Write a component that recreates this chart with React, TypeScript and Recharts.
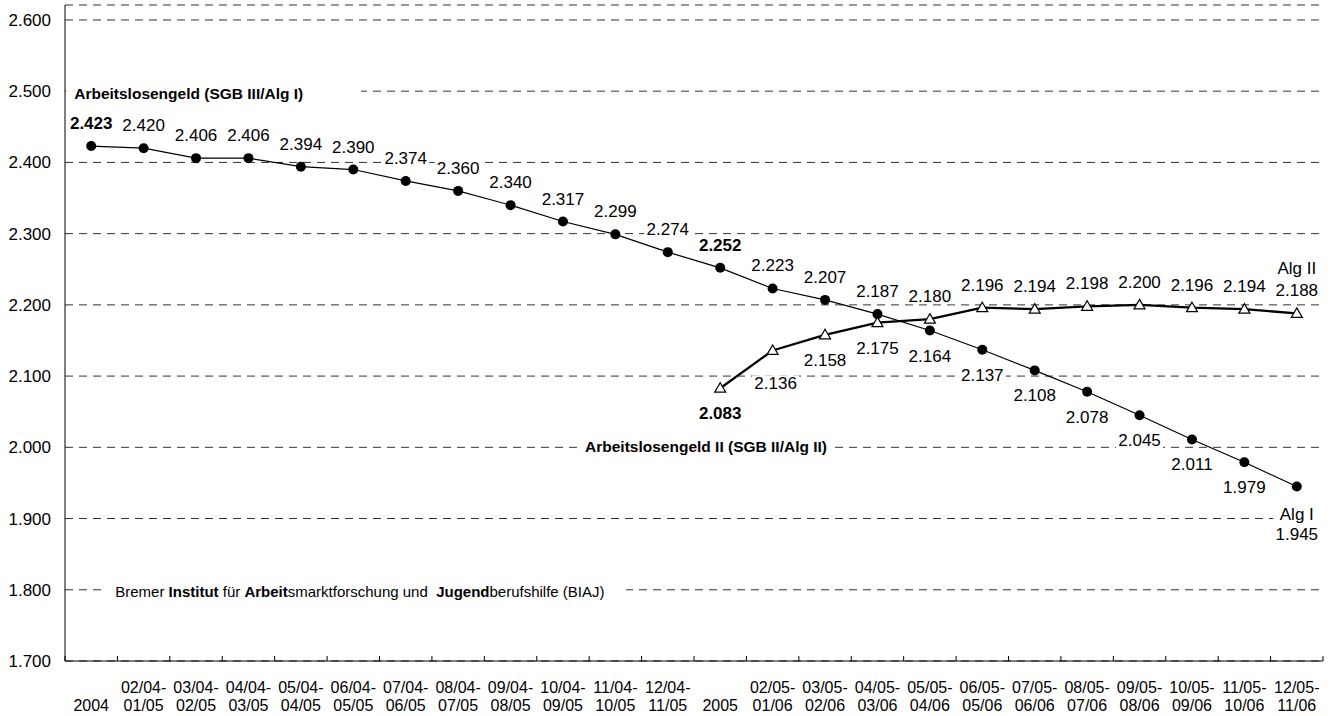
import React from 'react';
import { LineChart, Line, XAxis, YAxis, CartesianGrid, LabelList, ReferenceDot } from 'recharts';

// Zeiträume: Jahresdurchschnitt 2004/2005 und gleitende 12-Monats-Durchschnitte
const periods = [
  '2004', '02/04-01/05', '03/04-02/05', '04/04-03/05', '05/04-04/05', '06/04-05/05',
  '07/04-06/05', '08/04-07/05', '09/04-08/05', '10/04-09/05', '11/04-10/05', '12/04-11/05',
  '2005', '02/05-01/06', '03/05-02/06', '04/05-03/06', '05/05-04/06', '06/05-05/06',
  '07/05-06/06', '08/05-07/06', '09/05-08/06', '10/05-09/06', '11/05-10/06', '12/05-11/06',
];

// Arbeitslosengeld (SGB III/Alg I), Tausend
const algI = [
  2423, 2420, 2406, 2406, 2394, 2390, 2374, 2360, 2340, 2317, 2299, 2274,
  2252, 2223, 2207, 2187, 2164, 2137, 2108, 2078, 2045, 2011, 1979, 1945,
];

// Arbeitslosengeld II (SGB II/Alg II), ab 2005
const algII = [
  null, null, null, null, null, null, null, null, null, null, null, null,
  2083, 2136, 2158, 2175, 2180, 2196, 2194, 2198, 2200, 2196, 2194, 2188,
];

const yTicks = [1700, 1800, 1900, 2000, 2100, 2200, 2300, 2400, 2500, 2600];

const WIDTH = 1334;
const HEIGHT = 716;
const MARGIN = { top: 5, right: 11, bottom: 5, left: 0 };
const Y_AXIS_W = 65;
const X_AXIS_H = 50;
const PLOT_W = WIDTH - MARGIN.left - MARGIN.right - Y_AXIS_W;
const HALF_BAND = PLOT_W / periods.length / 2;

const FONT = '"Liberation Sans", Arial, Helvetica, sans-serif';

const fmt = (v: number) => `${Math.floor(v / 1000)}.${String(v % 1000).padStart(3, '0')}`;
const isYear = (p: string) => !p.includes('/');

const data = periods.map((period, i) => ({ period, idx: i, algI: algI[i], algII: algII[i] }));

const XTick = (props: any) => {
  const { x, y, payload } = props;
  const p: string = payload.value;
  const i = periods.indexOf(p);
  const top = isYear(p) ? '' : p.slice(0, 6);
  const bottom = isYear(p) ? p : p.slice(6);
  return (
    <g>
      <line x1={x - HALF_BAND} x2={x - HALF_BAND} y1={y} y2={y - 5} stroke="#000" />
      {i === periods.length - 1 && (
        <line x1={x + HALF_BAND} x2={x + HALF_BAND} y1={y} y2={y - 5} stroke="#000" />
      )}
      <text x={x} y={y + 32} textAnchor="middle" fontSize={16} fontFamily={FONT} fill="#000">{top}</text>
      <text x={x} y={y + 50} textAnchor="middle" fontSize={16} fontFamily={FONT} fill="#000">{bottom}</text>
    </g>
  );
};

const YTick = (props: any) => {
  const { x, y, payload } = props;
  return (
    <text x={x - 14} y={y + 6} textAnchor="end" fontSize={17} fontFamily={FONT} fill="#000">
      {fmt(payload.value)}
    </text>
  );
};

const ValueText = ({ cx, cy, text, bold }: { cx: number; cy: number; text: string; bold?: boolean }) => {
  const w = text.length * 8.6 + 4;
  return (
    <g>
      <rect x={cx - w / 2} y={cy - 8} width={w} height={16} fill="#fff" />
      <text x={cx} y={cy + 6} textAnchor="middle" fontSize={17} fontWeight={bold ? 'bold' : 'normal'}
        fontFamily={FONT} fill="#000">{text}</text>
    </g>
  );
};

const pointOf = (props: any) => ({
  px: props.x ?? props.viewBox?.x,
  py: props.y ?? props.viewBox?.y,
});

const algILabel = (props: any) => {
  const i = props.value as number;
  const { px, py } = pointOf(props);
  const v = algI[i];
  if (v == null || px == null || py == null) return null;
  const other = algII[i];
  const below = other != null && v < other;
  if (i === periods.length - 1) {
    return (
      <g>
        <ValueText cx={px} cy={py + 28} text="Alg I" />
        <ValueText cx={px} cy={py + 48} text={fmt(v)} />
      </g>
    );
  }
  return <ValueText cx={px} cy={below ? py + 25 : py - 23} text={fmt(v)} bold={isYear(periods[i])} />;
};

const algIILabel = (props: any) => {
  const i = props.value as number;
  const { px, py } = pointOf(props);
  const v = algII[i];
  if (v == null || px == null || py == null) return null;
  const below = v < algI[i];
  if (i === periods.length - 1) {
    return (
      <g>
        <ValueText cx={px} cy={py - 45} text="Alg II" />
        <ValueText cx={px} cy={py - 23} text={fmt(v)} />
      </g>
    );
  }
  // the first monthly value sits a little lower, clear of the steep segment
  const drop = i > 0 && algII[i - 1] != null && v - (algII[i - 1] as number) > 40 ? 33 : 25;
  return <ValueText cx={px + (drop > 25 ? 3 : 0)} cy={below ? py + drop : py - 23} text={fmt(v)} bold={isYear(periods[i])} />;
};

const Triangle = (props: any) => {
  const { cx, cy, index } = props;
  if (cx == null || cy == null) return <g key={`t-${index}`} />;
  return (
    <path key={`t-${index}`} d={`M${cx},${cy - 5.5} L${cx + 5.5},${cy + 4} L${cx - 5.5},${cy + 4} Z`}
      fill="#fff" stroke="#000" strokeWidth={1.2} />
  );
};

const centerOf = (vb: any) => ({ cx: vb.x + vb.width / 2, cy: vb.y + vb.height / 2 });

const algIHeading = (props: any) => {
  const { cx, cy } = centerOf(props.viewBox);
  return (
    <g>
      <rect x={cx - 25} y={cy - 8} width={295} height={18} fill="#fff" />
      <text x={cx - 17} y={cy + 7.5} fontSize={15.5} fontWeight="bold" fontFamily={FONT} fill="#000">
        Arbeitslosengeld (SGB III/Alg I)
      </text>
    </g>
  );
};

const algIIHeading = (props: any) => {
  const { cx, cy } = centerOf(props.viewBox);
  return (
    <g>
      <rect x={cx - 244} y={cy - 9} width={248} height={18} fill="#fff" />
      <text x={cx + 2} y={cy + 5} textAnchor="end" fontSize={15.5} fontWeight="bold" fontFamily={FONT} fill="#000">
        Arbeitslosengeld II (SGB II/Alg II)
      </text>
    </g>
  );
};

const sourceNote = (props: any) => {
  const { cx, cy } = centerOf(props.viewBox);
  return (
    <g>
      <rect x={cx + 13} y={cy - 8} width={522} height={18} fill="#fff" />
      <text x={cx + 24} y={cy + 7} fontSize={15} fontFamily={FONT} fill="#000">
        <tspan>{'Bremer '}</tspan>
        <tspan fontWeight="bold">Institut</tspan>
        <tspan>{' für '}</tspan>
        <tspan fontWeight="bold">Arbeit</tspan>
        <tspan>{'smarktforschung und\u00A0 '}</tspan>
        <tspan fontWeight="bold">Jugend</tspan>
        <tspan>berufshilfe (BIAJ)</tspan>
      </text>
    </g>
  );
};

export default function App() {
  return (
    <div style={{ position: 'absolute', left: 0, top: 0, width: WIDTH, height: HEIGHT, background: '#fff' }}>
      <LineChart width={WIDTH} height={HEIGHT} data={data} margin={MARGIN}>
        <CartesianGrid horizontal vertical={false} stroke="#333" strokeDasharray="8 6" />
        <XAxis
          dataKey="period"
          interval={0}
          height={X_AXIS_H}
          padding={{ left: HALF_BAND, right: HALF_BAND }}
          tickSize={0}
          tickMargin={0}
          tickLine={false}
          axisLine={{ stroke: '#000' }}
          tick={<XTick />}
        />
        <YAxis
          type="number"
          domain={[1700, 2621]}
          ticks={yTicks}
          interval={0}
          width={Y_AXIS_W}
          tickSize={0}
          tickMargin={0}
          tickLine={false}
          axisLine={{ stroke: '#000' }}
          tick={<YTick />}
        />
        <ReferenceDot x={periods[0]} y={2500} r={1} fill="none" stroke="none" label={algIHeading} />
        <ReferenceDot x={periods[14]} y={2000} r={1} fill="none" stroke="none" label={algIIHeading} />
        <ReferenceDot x={periods[0]} y={1800} r={1} fill="none" stroke="none" label={sourceNote} />
        <Line
          type="linear"
          dataKey="algI"
          stroke="#000"
          strokeWidth={1.2}
          dot={{ r: 5, fill: '#000', stroke: '#000', strokeWidth: 0 }}
          activeDot={false}
          isAnimationActive={false}
        >
          <LabelList dataKey="idx" content={algILabel} />
        </Line>
        <Line
          type="linear"
          dataKey="algII"
          stroke="#000"
          strokeWidth={2.3}
          dot={<Triangle />}
          activeDot={false}
          connectNulls={false}
          isAnimationActive={false}
        >
          <LabelList dataKey="idx" content={algIILabel} />
        </Line>
      </LineChart>
    </div>
  );
}
